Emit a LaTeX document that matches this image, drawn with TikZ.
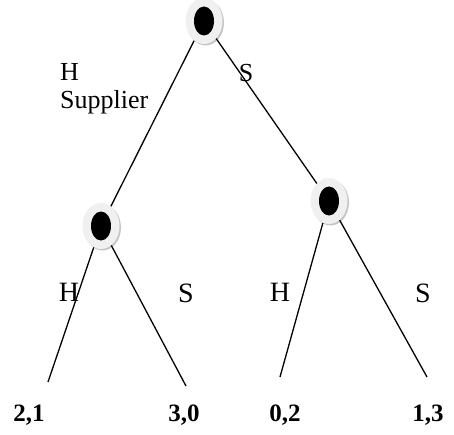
\documentclass[tikz,border=0pt]{standalone}
\usepackage{fontspec}
\setmainfont{Liberation Serif}
\usetikzlibrary{positioning,shapes.geometric,shadows}

\begin{document}
\begin{tikzpicture}[x=1pt,y=1pt,
  dec/.style={ellipse, fill=gray!12, minimum width=37pt, minimum height=46pt, inner sep=0pt,
    drop shadow={shadow xshift=1.5pt, shadow yshift=-1.5pt, fill=gray!45, opacity=1},
    path picture={\fill[black] (path picture bounding box.center) ellipse (10pt and 14.5pt);}},
  lbl/.style={font=\fontsize{28}{32}\selectfont, inner sep=0pt},
  top/.style={font=\fontsize{26}{28}\selectfont, inner sep=0pt},
  pay/.style={font=\fontsize{25}{28}\selectfont\bfseries, inner sep=0pt},
  edge/.style={line width=1.3pt}]
\useasboundingbox (0,0) rectangle (454,434);

\node (root) [dec] at (204,413) {};
\node (nl) [dec, below of=root, node distance=205pt, xshift=-103pt] {};
\node (nr) [dec, below of=root, node distance=180pt, xshift=125pt] {};

% ends of the last branches
\coordinate (e1) at (48,52);
\coordinate (e2) at (186,48);
\coordinate (e3) at (280,57);
\coordinate (e4) at (427,57);

\node (p1) [pay] at (29,19) {2,1};
\node (p2) [pay] at (184,19) {3,0};
\node (p3) [pay] at (285,19) {0,2};
\node (p4) [pay] at (428,19) {1,3};

\node (hs) [top, align=left, anchor=north west] at (60,371) {H\\Supplier};
\node (s0) [top] at (246,361) {S};
\node (h1) [lbl] at (69,142) {H};
\node (s1) [lbl] at (186,141) {S};
\node (h2) [lbl] at (280,142) {H};
\node (s2) [lbl] at (423,141) {S};

\draw[edge] (root) -- (nl);
\draw[edge] (root) -- (nr);
\draw[edge] (nl) -- (e1);
\draw[edge] (nl) -- (e2);
\draw[edge] (nr) -- (e3);
\draw[edge] (nr) -- (e4);

\end{tikzpicture}
\end{document}
